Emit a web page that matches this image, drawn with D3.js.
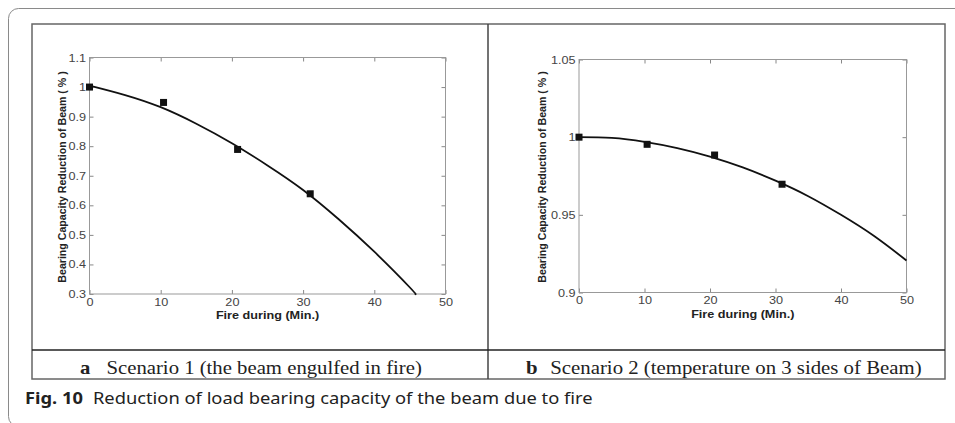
<!DOCTYPE html>
<html>
<head>
<meta charset="utf-8">
<script src="https://cdn.jsdelivr.net/npm/d3@7"></script>
<style>
  body { margin: 0; background: #fff; }
  svg { display: block; }
</style>
</head>
<body>
<script>
// page size
var width = 955,
    height = 423;

// measured points (minutes, fraction of capacity)
var timeA = [0, 10.4, 20.8, 31];
var capA = [1.0, 0.948, 0.789, 0.639];
var timeB = [0, 10.4, 20.7, 31];
var capB = [1.0, 0.9954, 0.9885, 0.9697];

// fitted curves
var fitTimeA = [0, 5, 10, 15, 20, 25, 30, 35, 40, 45, 45.7];
var fitCapA = [1.005, 0.973, 0.932, 0.876, 0.81, 0.735, 0.652, 0.553, 0.443, 0.322, 0.3];
var fitTimeB = [0, 5, 10, 15, 20, 25, 30, 35, 40, 45, 50];
var fitCapB = [1.0, 0.9995, 0.997, 0.993, 0.9875, 0.9805, 0.972, 0.962, 0.950, 0.9365, 0.9206];

// tick labels
var xTicks = [0, 10, 20, 30, 40, 50];
var yTicksA = [0.3, 0.4, 0.5, 0.6, 0.7, 0.8, 0.9, 1, 1.1];
var yTicksB = [0.9, 0.95, 1, 1.05];

// the scanned figure is stretched sideways, so text is too
var stretch = 1.15;
var sans = 'Liberation Sans, Arial, sans-serif';

var svg = d3.select('body')
    .append('svg')
    .attr('width', width)
    .attr('height', height);

// outer article frame with rounded corner
svg.append('rect')
    .attr('x', 8.5).attr('y', 8.5)
    .attr('width', 980).attr('height', 418)
    .attr('rx', 10)
    .attr('fill', 'none')
    .attr('stroke', '#8a8a8a')
    .attr('stroke-width', 1);

// table box holding both panels
var box = svg.append('g');
box.append('rect')
    .attr('x', 32).attr('y', 24)
    .attr('width', 913).attr('height', 355)
    .attr('fill', 'none')
    .attr('stroke', '#666')
    .attr('stroke-width', 1.5);
box.append('line')
    .attr('x1', 488).attr('x2', 488).attr('y1', 24).attr('y2', 379)
    .attr('stroke', '#444').attr('stroke-width', 1.5);
box.append('line')
    .attr('x1', 32).attr('x2', 945).attr('y1', 350).attr('y2', 350)
    .attr('stroke', '#222').attr('stroke-width', 1.5);

// squeeze a text into [x0, x1] horizontally
function fitText(t, x0, x1, y) {
    var w = t.node().getBBox().width;
    t.attr('x', 0).attr('y', 0)
        .attr('transform', 'translate(' + x0 + ',' + y + ') scale(' + ((x1 - x0) / w) + ',1)');
}

// draw one matlab-style panel
function panel(opt) {
    var x = d3.scaleLinear().domain([0, 50]).range([opt.left, opt.right]);
    var y = d3.scaleLinear().domain(opt.yDomain).range([opt.bottom, opt.top]);
    var g = svg.append('g');

    // ticks on all four sides, pointing inward
    g.append('g')
        .attr('transform', 'translate(0,' + opt.bottom + ')')
        .call(d3.axisBottom(x).tickValues(xTicks).tickSizeInner(-4).tickSizeOuter(0).tickPadding(4));
    g.append('g')
        .attr('transform', 'translate(0,' + opt.top + ')')
        .call(d3.axisTop(x).tickValues(xTicks).tickSizeInner(-4).tickSizeOuter(0).tickFormat(''));
    g.append('g')
        .attr('class', 'yaxis')
        .attr('transform', 'translate(' + opt.left + ',0)')
        .call(d3.axisLeft(y).tickValues(opt.yTicks).tickSizeInner(-4).tickSizeOuter(0).tickPadding(3)
            .tickFormat(d3.format('')));
    g.append('g')
        .attr('transform', 'translate(' + opt.right + ',0)')
        .call(d3.axisRight(y).tickValues(opt.yTicks).tickSizeInner(-4).tickSizeOuter(0).tickFormat(''));

    g.selectAll('.domain').remove();
    g.selectAll('.tick line').attr('stroke', '#888');
    g.selectAll('.tick text')
        .attr('fill', '#444')
        .attr('transform', 'scale(' + stretch + ',1)')
        .style('font-family', sans)
        .style('font-size', '11px');

    g.append('rect')
        .attr('x', opt.left).attr('y', opt.top)
        .attr('width', opt.right - opt.left).attr('height', opt.bottom - opt.top)
        .attr('fill', 'none').attr('stroke', '#999').attr('stroke-width', 1);

    var line = d3.line()
        .x(function(d) { return x(d[0]); })
        .y(function(d) { return y(d[1]); })
        .curve(d3.curveNatural);
    g.append('path')
        .datum(d3.zip(opt.fitTime, opt.fitCap))
        .attr('d', line)
        .attr('fill', 'none')
        .attr('stroke', '#111')
        .attr('stroke-width', 1.8);

    g.selectAll('.pt')
        .data(d3.zip(opt.time, opt.cap))
        .enter().append('rect')
            .attr('x', function(d) { return x(d[0]) - 3.5; })
            .attr('y', function(d) { return y(d[1]) - 3.5; })
            .attr('width', 7).attr('height', 7)
            .attr('fill', '#111');

    g.append('text')
        .attr('transform', 'translate(' + ((opt.left + opt.right) / 2) + ',' + (opt.bottom + 25) + ') scale(' + stretch + ',1)')
        .attr('text-anchor', 'middle')
        .style('font-family', sans)
        .style('font-size', '11px')
        .style('font-weight', 'bold')
        .attr('fill', '#222')
        .text('Fire during (Min.)');

    g.append('text')
        .attr('transform', 'translate(' + opt.yLabelX + ',177) rotate(-90)')
        .attr('text-anchor', 'middle')
        .style('font-family', sans)
        .style('font-size', '10.6px')
        .style('font-weight', 'bold')
        .attr('fill', '#222')
        .text('Bearing Capacity Reduction of Beam ( % )');

    // sub caption in the bottom row
    var cap = svg.append('text')
        .style('font-family', 'Liberation Serif, Times New Roman, serif')
        .style('font-size', '18px')
        .attr('fill', '#222');
    cap.append('tspan').style('font-weight', 'bold').text(opt.capLetter);
    cap.append('tspan').attr('dx', opt.capGap).text(opt.capText);
    fitText(cap, opt.capX0, opt.capX1, 373.5);
}

panel({
    left: 89.5, right: 445.5, top: 57.5, bottom: 294,
    yDomain: [0.3, 1.1], yTicks: yTicksA,
    time: timeA, cap: capA, fitTime: fitTimeA, fitCap: fitCapA,
    yLabelX: 66, capX0: 80, capX1: 422, capGap: 14, capLetter: 'a',
    capText: 'Scenario 1 (the beam engulfed in fire)'
});

panel({
    left: 579, right: 906.5, top: 59.5, bottom: 292.5,
    yDomain: [0.9, 1.05], yTicks: yTicksB,
    time: timeB, cap: capB, fitTime: fitTimeB, fitCap: fitCapB,
    yLabelX: 546, capX0: 526, capX1: 922, capGap: 11, capLetter: 'b',
    capText: 'Scenario 2 (temperature on 3 sides of Beam)'
});

// figure caption
var fig = svg.append('text')
    .style('font-family', 'Noto Sans, Open Sans, sans-serif')
    .style('font-size', '16.5px')
    .attr('fill', '#222');
fig.append('tspan').style('font-weight', 'bold').text('Fig. 10');
fig.append('tspan').attr('dx', 9).text('Reduction of load bearing capacity of the beam due to fire');
fitText(fig, 25, 593, 404);
</script>
</body>
</html>
